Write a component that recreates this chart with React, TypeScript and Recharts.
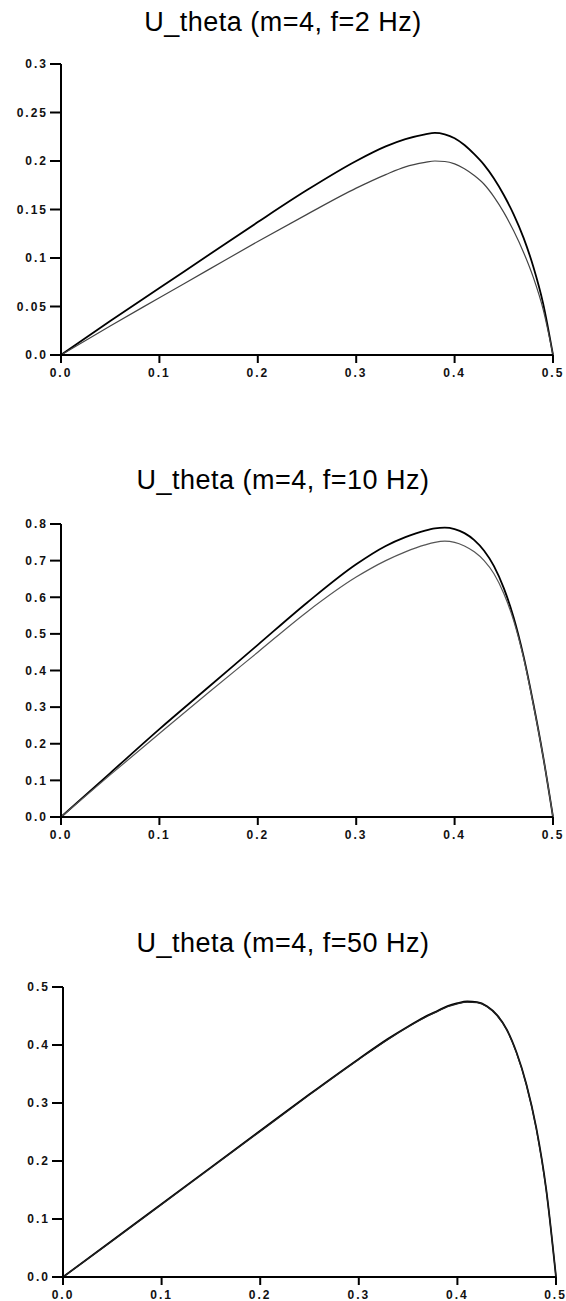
import React from 'react';
import { LineChart, Line, XAxis, YAxis } from 'recharts';

// radial position samples (same for every panel)
const radius = [0, 0.05, 0.1, 0.15, 0.2, 0.25, 0.3, 0.33, 0.35, 0.37, 0.38, 0.39, 0.4, 0.41, 0.42, 0.43, 0.44, 0.45, 0.46, 0.47, 0.48, 0.49, 0.5];

// f = 2 Hz
const upper2Hz = [0, 0.035, 0.069, 0.103, 0.137, 0.17, 0.2, 0.215, 0.2225, 0.2275, 0.229, 0.2275, 0.2235, 0.2165, 0.207, 0.196, 0.182, 0.165, 0.145, 0.121, 0.091, 0.053, 0];
const lower2Hz = [0, 0.03, 0.059, 0.088, 0.117, 0.145, 0.172, 0.186, 0.194, 0.1985, 0.2, 0.1995, 0.197, 0.192, 0.185, 0.176, 0.163, 0.147, 0.128, 0.106, 0.08, 0.047, 0];

// f = 10 Hz
const upper10Hz = [0, 0.12, 0.24, 0.355, 0.47, 0.585, 0.69, 0.74, 0.764, 0.782, 0.788, 0.79, 0.786, 0.775, 0.756, 0.727, 0.685, 0.625, 0.545, 0.44, 0.31, 0.165, 0];
const lower10Hz = [0, 0.115, 0.228, 0.34, 0.45, 0.56, 0.655, 0.7, 0.724, 0.743, 0.75, 0.753, 0.75, 0.74, 0.724, 0.7, 0.664, 0.61, 0.536, 0.435, 0.307, 0.164, 0];

// f = 50 Hz
const upper50Hz = [0, 0.063, 0.126, 0.189, 0.252, 0.315, 0.376, 0.411, 0.432, 0.451, 0.459, 0.467, 0.472, 0.475, 0.474, 0.467, 0.452, 0.427, 0.387, 0.332, 0.257, 0.152, 0];
const lower50Hz = [0, 0.062, 0.125, 0.188, 0.251, 0.314, 0.375, 0.41, 0.431, 0.45, 0.458, 0.466, 0.471, 0.474, 0.473, 0.466, 0.451, 0.426, 0.386, 0.331, 0.256, 0.151, 0];

const xTicks = [0, 0.1, 0.2, 0.3, 0.4, 0.5];
const yTicks2Hz = [0, 0.05, 0.1, 0.15, 0.2, 0.25, 0.3];
const yTicks10Hz = [0, 0.1, 0.2, 0.3, 0.4, 0.5, 0.6, 0.7, 0.8];
const yTicks50Hz = [0, 0.1, 0.2, 0.3, 0.4, 0.5];

const titles = ['U_theta (m=4, f=2 Hz)', 'U_theta (m=4, f=10 Hz)', 'U_theta (m=4, f=50 Hz)'];

const FONT = '"Liberation Sans", Arial, Helvetica, sans-serif';

const fmt = (v: number) => (v === 0 ? '0.0' : String(v));

function buildRows(upper: number[], lower: number[]) {
  return radius.map((r, i) => ({ r, upper: upper[i], lower: lower[i] }));
}

interface PanelProps {
  title: string;
  titleY: number;
  plotTop: number;
  plotBottom: number;
  left: number;
  right: number;
  yTicks: number[];
  upper: number[];
  lower: number[];
  lowerColor: string;
}

function Panel({ title, titleY, plotTop, plotBottom, left, right, yTicks, upper, lower, lowerColor }: PanelProps) {
  const data = buildRows(upper, lower);
  const height = 10 + (plotBottom - plotTop) + 40;
  const tickStyle = { fontSize: 12, fontWeight: 700, fill: '#111', fontFamily: FONT, letterSpacing: 2 };

  return (
    <>
      <div
        style={{
          position: 'absolute',
          left: 0,
          width: 566,
          top: titleY - 15,
          lineHeight: '30px',
          height: 30,
          textAlign: 'center',
          fontFamily: FONT,
          fontSize: 27,
          letterSpacing: 0.5,
          color: '#000',
        }}
      >
        {title}
      </div>
      <div style={{ position: 'absolute', left: 0, top: plotTop - 10 }}>
        <LineChart width={566} height={height} data={data} margin={{ top: 10, right: 566 - right, left: 0, bottom: 0 }}>
          <XAxis
            type="number"
            dataKey="r"
            domain={[0, 0.5]}
            ticks={xTicks}
            tickFormatter={fmt}
            height={40}
            tickSize={8}
            tickMargin={5}
            axisLine={{ stroke: '#000', strokeWidth: 2 }}
            tickLine={{ stroke: '#000', strokeWidth: 2 }}
            tick={tickStyle}
          />
          <YAxis
            type="number"
            domain={[0, yTicks[yTicks.length - 1]]}
            ticks={yTicks}
            tickFormatter={fmt}
            width={left}
            tickSize={11}
            tickMargin={2}
            axisLine={{ stroke: '#000', strokeWidth: 2 }}
            tickLine={{ stroke: '#000', strokeWidth: 2 }}
            tick={tickStyle}
          />
          <Line type="monotone" dataKey="upper" stroke="#000" strokeWidth={1.8} dot={false} isAnimationActive={false} />
          <Line type="monotone" dataKey="lower" stroke={lowerColor} strokeWidth={1.2} dot={false} isAnimationActive={false} />
        </LineChart>
      </div>
    </>
  );
}

export default function App() {
  return (
    <div style={{ position: 'relative', width: 566, height: 1301, overflow: 'hidden', background: '#fff' }}>
      <style>{'body{margin:0}'}</style>
      <Panel title={titles[0]} titleY={22} plotTop={64} plotBottom={355} left={61} right={553} yTicks={yTicks2Hz} upper={upper2Hz} lower={lower2Hz} lowerColor="#444" />
      <Panel title={titles[1]} titleY={480} plotTop={524} plotBottom={817} left={61} right={553} yTicks={yTicks10Hz} upper={upper10Hz} lower={lower10Hz} lowerColor="#555" />
      <Panel title={titles[2]} titleY={943} plotTop={987} plotBottom={1277} left={63} right={556} yTicks={yTicks50Hz} upper={upper50Hz} lower={lower50Hz} lowerColor="#222" />
    </div>
  );
}
